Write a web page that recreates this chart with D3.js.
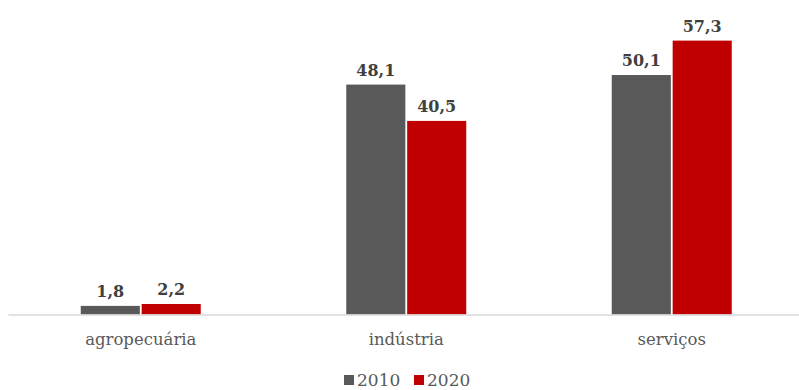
<!DOCTYPE html>
<html>
<head>
<meta charset="utf-8">
<script src="https://d3js.org/d3.v7.min.js"></script>
<style>
  body { margin: 0; background: #fff; }
  text { font-family: "DejaVu Serif", serif; }
</style>
</head>
<body>
<svg width="799" height="390"></svg>
<script>
// dados
const categories = ["agropecuária", "indústria", "serviços"];
const seriesNames = ["2010", "2020"];
const values2010 = [1.8, 48.1, 50.1];
const values2020 = [2.2, 40.5, 57.3];
const colors = ["#595959", "#C00000"];

const data = categories.map((c, i) => ({
  cat: c,
  vals: [values2010[i], values2020[i]]
}));

const svg = d3.select("svg");
const baseY = 314.5;

const x = d3.scaleBand()
  .domain(categories)
  .range([8, 804.5])
  .paddingInner(0)
  .paddingOuter(0);

const groupW = 120;
const x1 = d3.scaleBand()
  .domain(seriesNames)
  .range([0, groupW])
  .paddingInner(0.03);

const y = d3.scaleLinear()
  .domain([0, 60])
  .range([baseY, baseY - 60 * 4.78]);

const fmt = v => d3.format(".1f")(v).replace(".", ",");

const g = svg.selectAll("g.cat")
  .data(data)
  .enter().append("g")
  .attr("class", "cat")
  .attr("transform", d => `translate(${x(d.cat) + x.bandwidth() / 2 - groupW / 2},0)`);

g.selectAll("rect")
  .data(d => d.vals.map((v, i) => ({ key: seriesNames[i], v: v, i: i })))
  .enter().append("rect")
  .attr("x", d => x1(d.key))
  .attr("width", x1.bandwidth())
  .attr("y", d => y(d.v))
  .attr("height", d => baseY - y(d.v))
  .attr("fill", d => colors[d.i]);

g.selectAll("text.val")
  .data(d => d.vals.map((v, i) => ({ key: seriesNames[i], v: v, i: i })))
  .enter().append("text")
  .attr("class", "val")
  .attr("x", d => x1(d.key) + x1.bandwidth() / 2)
  .attr("y", d => y(d.v) - 9)
  .attr("text-anchor", "middle")
  .attr("font-size", 16)
  .attr("font-weight", "bold")
  .attr("fill", "#404040")
  .text(d => fmt(d.v));

// eixo x
const axis = svg.append("g")
  .attr("transform", `translate(0,${baseY})`)
  .call(d3.axisBottom(x).tickSize(0).tickPadding(19));
axis.select(".domain").attr("stroke", "#d9d9d9").attr("stroke-width", 1.5);
axis.selectAll("text")
  .attr("font-family", "DejaVu Serif, serif")
  .attr("font-size", 16.5)
  .attr("fill", "#595959");

// legenda
const legend = svg.append("g").attr("transform", "translate(344,375)");
const items = legend.selectAll("g")
  .data(seriesNames)
  .enter().append("g")
  .attr("transform", (d, i) => `translate(${i * 70},0)`);
items.append("rect")
  .attr("width", 10).attr("height", 10)
  .attr("fill", (d, i) => colors[i]);
items.append("text")
  .attr("x", 13).attr("y", 11)
  .attr("font-size", 17)
  .attr("fill", "#595959")
  .text(d => d);
</script>
</body>
</html>
